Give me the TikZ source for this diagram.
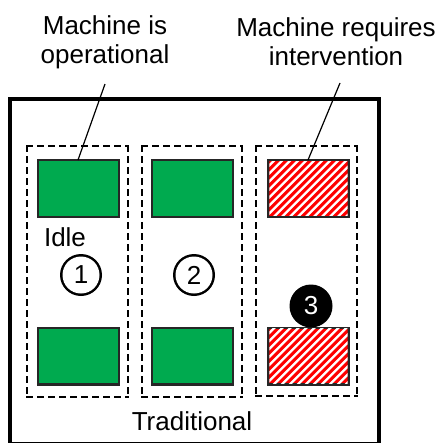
\documentclass[tikz,border=0pt]{standalone}
\usepackage{fontspec}
\setmainfont{Liberation Sans}
\usetikzlibrary{calc}
\definecolor{mgreen}{RGB}{0,170,79}
\definecolor{mred}{RGB}{255,0,0}
% dashed outline made of filled dashes: x1 y1 x2 y2
\newcommand\mydashbox[4]{%
  \pgfmathsetmacro\dbw{#3-#1}%
  \pgfmathsetmacro\dbh{#4-#2}%
  \foreach \t in {0,11,...,\dbw}{
    \fill ({#1-1.25+\t},{#2-1.25}) rectangle ({min(#1-1.25+\t+7,#3+1.25)},{#2+1.25});
    \fill ({#1-1.25+\t},{#4-1.25}) rectangle ({min(#1-1.25+\t+7,#3+1.25)},{#4+1.25});
  }
  \foreach \t in {0,11,...,\dbh}{
    \fill ({#1-1.25},{#2-1.25+\t}) rectangle ({#1+1.25},{min(#2-1.25+\t+7,#4+1.25)});
    \fill ({#3-1.25},{#2-1.25+\t}) rectangle ({#3+1.25},{min(#2-1.25+\t+7,#4+1.25)});
  }
}
\begin{document}
\begin{tikzpicture}[x=1pt,y=-1pt,
  lbl/.style={font=\fontsize{26}{29}\selectfont, inner sep=0pt, align=center},
  machine/.style={fill=black!85, minimum width=83pt, minimum height=59pt, inner sep=0pt},
  group/.style={inner sep=0pt},
  num/.style={circle, fill=white, minimum size=37pt, inner sep=0pt, font=\fontsize{26}{29}\selectfont},
  numblack/.style={circle, fill=black, text=white, minimum size=43pt, inner sep=0pt, font=\fontsize{26}{29}\selectfont},
  pointer/.style={line width=1.2pt}
]
\useasboundingbox (0,0) rectangle (443,442);
\fill[white] (0,0) rectangle (443,442);
% outer frame
\fill (7.5,96.5) rectangle (380.5,450);
\fill[white] (11.5,100.5) rectangle (376.5,441.5);
% dashed groups
\node[group, minimum width=101pt, minimum height=251pt] (grp1) at (77.5,271.5) {};
\node[group, minimum width=100pt, minimum height=251pt] (grp2) at (192,271.5) {};
\node[group, minimum width=101pt, minimum height=250pt] (grp3) at (306.5,271) {};
\mydashbox{27}{146}{128}{397}
\mydashbox{142}{146}{242}{397}
\mydashbox{256}{146}{357}{396}
% machines
\node[machine] (m1t) at (78.5,188.5) {};
\node[machine] (m2t) at (192.5,188.5) {};
\node[machine] (m1b) at (78.5,356) {};
\node[machine] (m2b) at (192.5,356) {};
\node[machine] (m3t) at (308.5,188.5) {};
\node[machine] (m3b) at (308.5,356) {};
\foreach \m in {m1t,m2t,m1b,m2b}{
  \fill[mgreen] ($(\m.north west)+(2.5,2.5)$) rectangle ($(\m.south east)+(-2.5,-2.5)$);
}
\foreach \m in {m3t,m3b}{
  \begin{scope}
    \clip ($(\m.north west)+(2.5,2.5)$) rectangle ($(\m.south east)+(-2.5,-2.5)$);
    \fill[mred] ($(\m.north west)+(2.5,2.5)$) rectangle ($(\m.south east)+(-2.5,-2.5)$);
    \foreach \k in {-84,-76,...,100}{
      \fill[white] ($(\m.south west)+(\k,0)$) -- ++(3.4,0) -- ++(70,-70) -- ++(-3.4,0) -- cycle;
    }
  \end{scope}
}
% texts
\node[lbl] (lab1) at (105,42) {Machine is\\operational};
\node[lbl] (lab2) at (336,42) {Machine requires\\intervention};
\node[lbl] (idle) at (65,237) {Idle};
\node[lbl] (trad) at (192,421) {Traditional};
% numbers
\fill (81,275) circle (21);
\fill (194,275) circle (21);
\node[num] (n1) at (81,275) {1};
\node[num] (n2) at (194,275) {2};
\node[numblack] (n3) at (311,306) {3};
% pointers
\coordinate (p1) at (105,84);
\coordinate (q1) at (78,160);
\coordinate (p2) at (340,83);
\coordinate (q2) at (308,160);
\draw[pointer] (p1) -- (q1);
\draw[pointer] (p2) -- (q2);
\end{tikzpicture}
\end{document}
